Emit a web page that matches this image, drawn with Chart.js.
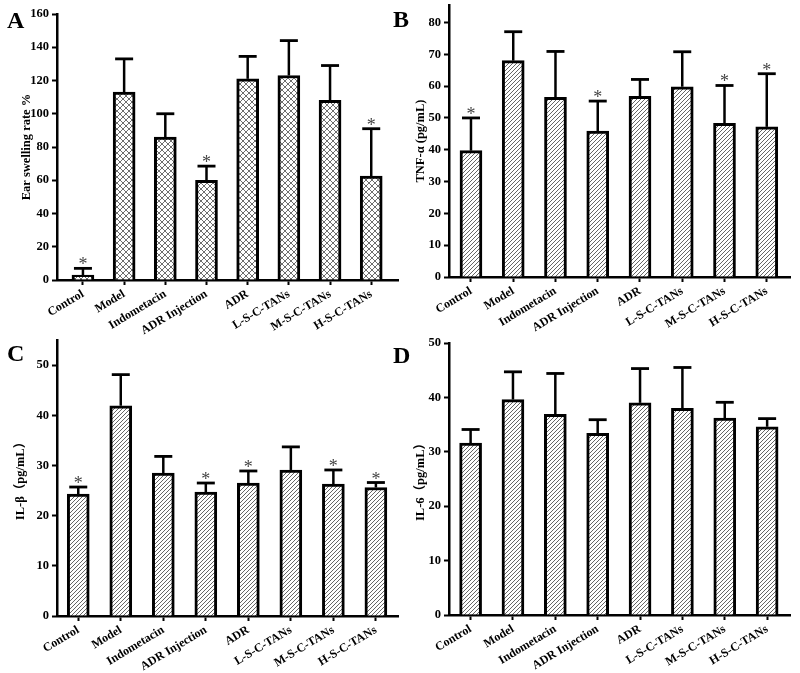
<!DOCTYPE html>
<html>
<head>
<meta charset="utf-8">
<script src="https://cdn.jsdelivr.net/npm/chart.js@4"></script>
<style>
html,body{margin:0;padding:0;background:#fff;}
#wrap{position:relative;width:800px;height:673px;background:#fff;overflow:hidden;}
canvas{position:absolute;}
.lbl{position:absolute;font-family:"Liberation Serif","DejaVu Serif",serif;font-weight:bold;font-size:24px;line-height:24px;color:#000;}
</style>
</head>
<body>
<div id="wrap">
  <canvas id="cA" width="400" height="335" style="left:0;top:0"></canvas>
  <canvas id="cB" width="400" height="335" style="left:400px;top:0"></canvas>
  <canvas id="cC" width="400" height="338" style="left:0;top:335px"></canvas>
  <canvas id="cD" width="400" height="338" style="left:400px;top:335px"></canvas>
  <div class="lbl" style="left:7px;top:8px">A</div>
  <div class="lbl" style="left:393px;top:7px">B</div>
  <div class="lbl" style="left:7px;top:341px">C</div>
  <div class="lbl" style="left:393px;top:343px">D</div>
</div>
<script>
// ---- data ----
const categories = ['Control','Model','Indometacin','ADR Injection','ADR','L-S-C-TANs','M-S-C-TANs','H-S-C-TANs'];

const earSwelling   = [3, 113, 86, 60, 121, 123, 108, 62.5];
const earSwellingSD = [4, 20, 14, 8.5, 13.5, 21, 21, 28.5];
const earSwellingSig = [true, false, false, true, false, false, false, true];

const tnfAlpha   = [39.7, 68.0, 56.5, 45.9, 56.8, 59.8, 48.3, 47.2];
const tnfAlphaSD = [10.3, 9.1, 14.4, 9.4, 5.3, 11.0, 11.9, 16.7];
const tnfAlphaSig = [true, false, false, true, false, false, true, true];

const il1b   = [24.3, 41.9, 28.5, 24.7, 26.5, 29.1, 26.3, 25.6];
const il1bSD = [1.4, 6.2, 3.3, 1.8, 2.4, 4.6, 2.8, 1.0];
const il1bSig = [true, false, false, true, true, false, true, true];

const il6   = [31.6, 39.6, 36.9, 33.4, 39.0, 38.0, 36.2, 34.6];
const il6SD = [2.5, 5.1, 7.5, 2.5, 6.3, 7.5, 2.9, 1.5];
const il6Sig = [false, false, false, false, false, false, false, false];

// ---- patterns ----
function crossHatch(){
  const c = document.createElement('canvas'); c.width = 6; c.height = 6;
  const g = c.getContext('2d');
  g.fillStyle = '#fff'; g.fillRect(0,0,6,6);
  g.strokeStyle = '#6e6e6e'; g.lineWidth = 1;
  g.beginPath(); g.moveTo(0,0); g.lineTo(6,6); g.moveTo(0,6); g.lineTo(6,0); g.stroke();
  return c;
}
function diagHatch(){
  const c = document.createElement('canvas'); c.width = 4; c.height = 4;
  const g = c.getContext('2d');
  g.fillStyle = '#fff'; g.fillRect(0,0,4,4);
  g.strokeStyle = '#666'; g.lineWidth = 1;
  g.beginPath();
  g.moveTo(0,4); g.lineTo(4,0);
  g.moveTo(-1,1); g.lineTo(1,-1);
  g.moveTo(3,5); g.lineTo(5,3);
  g.stroke();
  return c;
}

const FONT = '"Liberation Serif","Times New Roman","Noto Sans CJK SC",serif';

function errPlugin(values, sd, sig){
  return {
    id: 'errbars',
    afterDatasetsDraw(chart){
      const ctx = chart.ctx;
      const meta = chart.getDatasetMeta(0);
      const ys = chart.scales.y;
      ctx.save();
      ctx.strokeStyle = '#000';
      meta.data.forEach((el, i) => {
        const x = el.x;
        const top = ys.getPixelForValue(values[i] + sd[i]);
        ctx.lineWidth = 2.5;
        ctx.beginPath(); ctx.moveTo(x, el.y); ctx.lineTo(x, top); ctx.stroke();
        ctx.lineWidth = 2.8;
        ctx.beginPath(); ctx.moveTo(x - 9, top); ctx.lineTo(x + 9, top); ctx.stroke();
        if (sig[i]) {
          ctx.fillStyle = '#444';
          ctx.font = '18px ' + FONT;
          ctx.textAlign = 'center';
          ctx.textBaseline = 'alphabetic';
          ctx.fillText('*', x, top + 2);
        }
      });
      ctx.restore();
    }
  };
}

function makeChart(id, cfg){
  const ctx = document.getElementById(id).getContext('2d');
  const pat = ctx.createPattern(cfg.pattern, 'repeat');
  return new Chart(ctx, {
    type: 'bar',
    data: {
      datasets: [{
        data: cfg.values.map((v, i) => ({x: i, y: v})),
        backgroundColor: pat,
        borderColor: '#000',
        borderWidth: 3,
        borderSkipped: 'bottom',
        barThickness: 22
      }]
    },
    options: {
      responsive: false,
      animation: false,
      devicePixelRatio: 1,
      layout: { padding: cfg.pad },
      plugins: { legend: {display: false}, tooltip: {enabled: false} },
      scales: {
        x: {
          type: 'linear',
          offset: false,
          min: cfg.xMin, max: cfg.xMax,
          afterBuildTicks: s => { s.ticks = categories.map((c, i) => ({value: i})); },
          afterFit: s => { s.height = cfg.xHeight; s.paddingLeft = 0; s.paddingRight = 0; },
          grid: { display: true, offset: false, drawOnChartArea: false, drawTicks: true, tickLength: 5, tickColor: '#000', tickWidth: 2 },
          border: { display: true, color: '#000', width: 2.5 },
          ticks: {
            autoSkip: false, minRotation: 31, maxRotation: 31, padding: 2,
            color: '#000',
            font: { family: FONT, weight: 'bold', size: 12 },
            callback: v => categories[v]
          }
        },
        y: {
          min: cfg.yMin, max: cfg.yMax,
          afterFit: s => { s.width = cfg.yWidth; s.paddingTop = 0; s.paddingBottom = 0; },
          grid: { display: true, drawOnChartArea: false, drawTicks: true, tickLength: 5, tickColor: '#000', tickWidth: 2 },
          border: { display: true, color: '#000', width: 2.5 },
          ticks: {
            stepSize: cfg.yStep, includeBounds: false, padding: 3,
            color: '#000',
            font: { family: FONT, weight: 'bold', size: 12.5 }
          },
          title: {
            display: true, text: cfg.yTitle, color: '#000',
            font: { family: FONT, weight: 'bold', size: 12.5 },
            padding: { top: cfg.titlePad, bottom: 0 }
          }
        }
      }
    },
    plugins: [errPlugin(cfg.values, cfg.sd, cfg.sig)]
  });
}

makeChart('cA', {
  values: earSwelling, sd: earSwellingSD, sig: earSwellingSig, pattern: crossHatch(),
  yMin: 0, yMax: 160, yStep: 20, yTitle: 'Ear swelling rate %',
  xMin: -0.63, xMax: 7.65, yWidth: 57, xHeight: 55, titlePad: 19,
  pad: {left: 0, right: 2, top: 14, bottom: 0}
});
makeChart('cB', {
  values: tnfAlpha, sd: tnfAlphaSD, sig: tnfAlphaSig, pattern: diagHatch(),
  yMin: 0, yMax: 85.5, yStep: 10, yTitle: 'TNF-α (pg/mL)',
  xMin: -0.52, xMax: 7.55, yWidth: 49, xHeight: 58, titlePad: 13,
  pad: {left: 0, right: 10, top: 5, bottom: 0}
});
makeChart('cC', {
  values: il1b, sd: il1bSD, sig: il1bSig, pattern: diagHatch(),
  yMin: 0, yMax: 55, yStep: 10, yTitle: 'IL-β（pg/mL）',
  xMin: -0.5, xMax: 7.52, yWidth: 57, xHeight: 57, titlePad: 13,
  pad: {left: 0, right: 2, top: 5, bottom: 0}
});
makeChart('cD', {
  values: il6, sd: il6SD, sig: il6Sig, pattern: diagHatch(),
  yMin: 0, yMax: 50, yStep: 10, yTitle: 'IL-6（pg/mL）',
  xMin: -0.51, xMax: 7.54, yWidth: 49, xHeight: 58, titlePad: 13,
  pad: {left: 0, right: 10, top: 8, bottom: 0}
});
</script>
</body>
</html>
